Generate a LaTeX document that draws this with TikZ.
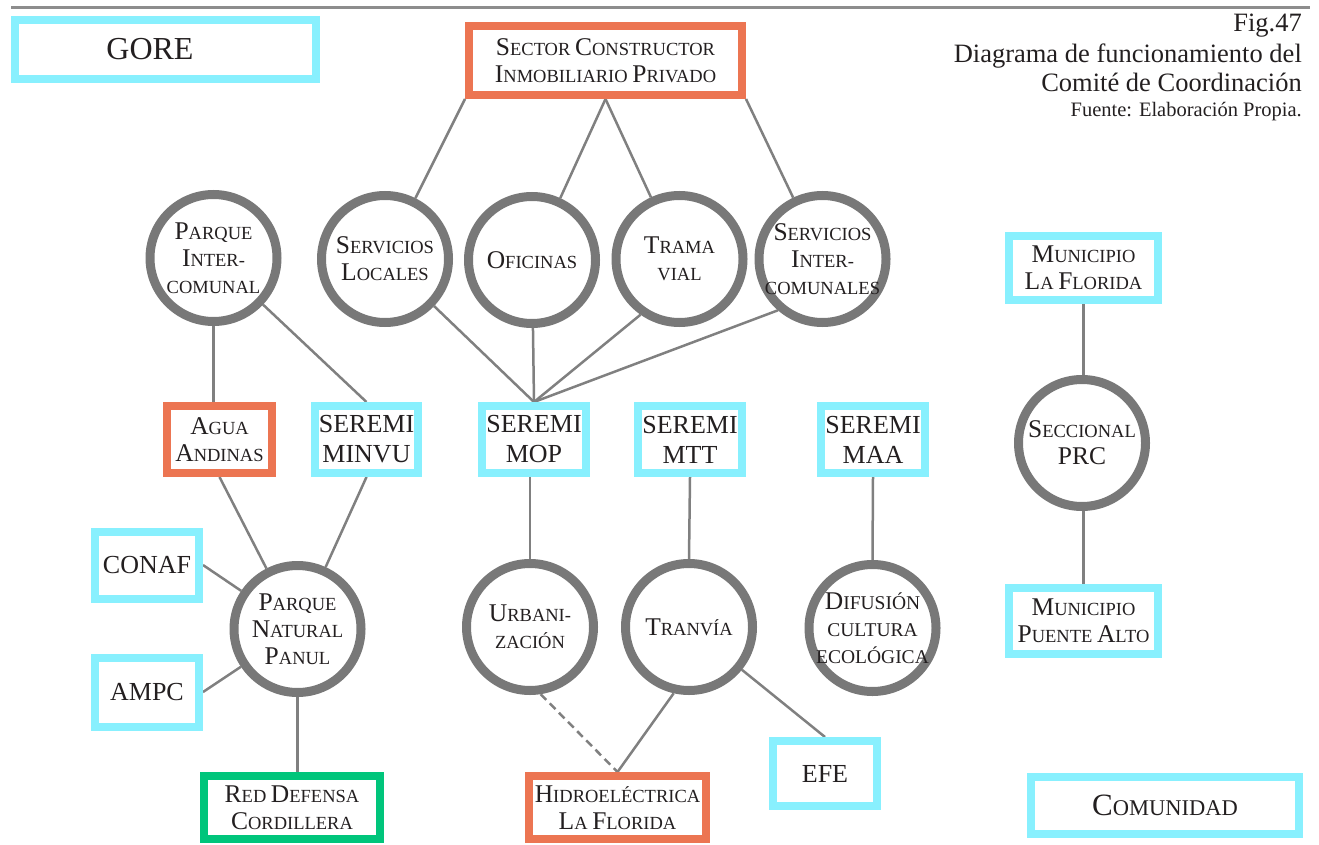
\documentclass[tikz,border=0pt]{standalone}
\usepackage{fontspec}
\setmainfont{Liberation Serif}
\usetikzlibrary{calc,backgrounds}
\definecolor{cyanb}{HTML}{88F0FE}
\definecolor{orangeb}{HTML}{EC7552}
\definecolor{greenb}{HTML}{00C57B}
\definecolor{ringg}{HTML}{787878}
\definecolor{lineg}{HTML}{808080}
\definecolor{txt}{HTML}{231F20}
\newcommand\Cap[1]{{\fontsize{25.5}{27}\selectfont #1}}
\newcommand\CapB[1]{{\fontsize{31}{36}\selectfont #1}}
\newcommand\sfont{\fontsize{18.5}{27}\selectfont}
\newcommand\bfnt{\fontsize{26}{30}\selectfont}
\begin{document}
\begin{tikzpicture}[x=1pt,y=-1pt,
  every node/.style={text=txt},
  box/.style={rectangle, draw, line width=8pt, fill=white, inner sep=0pt, align=center, font=\sfont},
  cbox/.style={box, draw=cyanb},
  obox/.style={box, draw=orangeb},
  gbox/.style={box, draw=greenb},
  ring/.style={circle, draw=ringg, line width=9pt, fill=white, minimum size=127pt, inner sep=0pt},
  ctext/.style={align=center, font=\sfont, inner sep=0pt},
  conn/.style={draw=lineg, line width=2.5pt},
  dconn/.style={conn, dash pattern=on 8pt off 5pt},
  fig/.style={anchor=base east, inner sep=0pt, font=\fontsize{26.5}{29}\selectfont}
]
\useasboundingbox (0,0) rectangle (1319,845);
\draw[draw=lineg!90, line width=3pt] (11,7.5) -- (1310,7.5);

% title
\node[fig] (f1) at (1302,32) {Fig.47};
\node[fig] (f2) at (1302,63) {Diagrama de funcionamiento del};
\node[fig] (f3) at (1302,92) {Comité de Coordinación};
\node[fig, font=\fontsize{20.5}{22}\selectfont] (f4) at (1302,117) {Fuente: Elaboración Propia.};

% boxes
\node[cbox, minimum width=301pt, minimum height=59pt] (gore) at (165.5,49.5) {};
\node[inner sep=0pt, font=\fontsize{32}{36}\selectfont] (goret) at (150,49.5) {GORE};
\node[obox, minimum width=273pt, minimum height=69pt] (sector) at (605.5,60.5) {\Cap{S}ECTOR \Cap{C}ONSTRUCTOR\\\Cap{I}NMOBILIARIO \Cap{P}RIVADO};
\node[obox, minimum width=105pt, minimum height=67pt] (agua) at (219.5,439.5) {\Cap{A}GUA\\\Cap{A}NDINAS};
\node[cbox, minimum width=103pt, minimum height=67pt, font=\bfnt] (minvu) at (366.5,439.5) {SEREMI\\MINVU};
\node[cbox, minimum width=104pt, minimum height=67pt, font=\bfnt] (mop) at (534,439.5) {SEREMI\\MOP};
\node[cbox, minimum width=104pt, minimum height=67pt, font=\bfnt] (mtt) at (690,439.5) {SEREMI\\MTT};
\node[cbox, minimum width=104pt, minimum height=67pt, font=\bfnt] (maa) at (873,439.5) {SEREMI\\MAA};
\node[cbox, minimum width=149pt, minimum height=64pt] (munlf) at (1083.5,268) {\Cap{M}UNICIPIO\\\Cap{L}A \Cap{F}LORIDA};
\node[cbox, minimum width=104pt, minimum height=67pt, font=\bfnt] (conaf) at (147,565) {CONAF};
\node[cbox, minimum width=104pt, minimum height=69pt, font=\bfnt] (ampc) at (147,692) {AMPC};
\node[gbox, minimum width=176pt, minimum height=63pt] (red) at (292,807.5) {\Cap{R}ED \Cap{D}EFENSA\\\Cap{C}ORDILLERA};
\node[obox, minimum width=177pt, minimum height=63pt] (hidro) at (617.5,807.5) {\Cap{H}IDROELÉCTRICA\\\Cap{L}A \Cap{F}LORIDA};
\node[cbox, minimum width=104pt, minimum height=65pt, font=\bfnt] (efe) at (825,773.5) {EFE};
\node[cbox, minimum width=149pt, minimum height=66pt] (munpa) at (1083.5,621) {\Cap{M}UNICIPIO\\\Cap{P}UENTE \Cap{A}LTO};
\node[cbox, minimum width=268pt, minimum height=57pt, font=\fontsize{22.5}{36}\selectfont] (com) at (1165,805) {\CapB{C}OMUNIDAD};

% circles
\node[ring] (pi) at (213.5,258) {};
\node[ctext] (pit) at (pi) {\Cap{P}ARQUE\\\Cap{I}NTER-\\COMUNAL};
\node[ring] (sl) at (385,259) {};
\node[ctext] (slt) at (sl) {\Cap{S}ERVICIOS\\\Cap{L}OCALES};
\node[ring] (of) at (532,260) {};
\node[ctext] (oft) at (of) {\Cap{O}FICINAS};
\node[ring] (tv) at (679.5,259) {};
\node[ctext] (tvt) at (tv) {\Cap{T}RAMA\\VIAL};
\node[ring] (si) at (822.5,259) {};
\node[ctext] (sit) at (si) {\Cap{S}ERVICIOS\\\Cap{I}NTER-\\COMUNALES};
\node[ring] (sec) at (1082,443) {};
\node[ctext] (sect) at (sec) {\Cap{S}ECCIONAL\\\Cap{PRC}};
\node[ring] (panul) at (297.5,629) {};
\node[ctext] (panult) at (panul) {\Cap{P}ARQUE\\\Cap{N}ATURAL\\\Cap{P}ANUL};
\node[ring] (urb) at (530,627) {};
\node[ctext] (urbt) at (urb) {\Cap{U}RBANI-\\ZACIÓN};
\node[ring] (tran) at (689,627) {};
\node[ctext] (trant) at (tran) {\Cap{T}RANVÍA};
\node[ring] (dif) at (872.5,628) {};
\node[ctext, font=\fontsize{19.5}{27}\selectfont] (dift) at (dif) {\Cap{D}IFUSIÓN\\CULTURA\\ECOLÓGICA};

% connectors
\begin{scope}[on background layer]
\draw[conn] (sector.south west) -- (sl);
\draw[conn] (sector.south) -- (of);
\draw[conn] (sector.south) -- (tv);
\draw[conn] (sector.south east) -- (si);
\draw[conn] (pi.south) -- (pi.south |- agua.north);
\draw[conn] (pi) -- (minvu.north);
\draw[conn] (sl) -- (mop.north);
\draw[conn] (of) -- (mop.north);
\draw[conn] (tv.-125) -- (mop.north);
\draw[conn] (si.-131) -- (mop.north);
\draw[conn] (agua.south) -- (panul);
\draw[conn] (minvu.south) -- (panul);
\draw[conn] (conaf.east) -- (panul);
\draw[conn] (ampc.east) -- (panul);
\draw[conn] (panul.south) -- (panul.south |- red.north);
\draw[conn] (urb.north |- mop.south) -- (urb.north);
\draw[conn] (mtt.south) -- (tran.north);
\draw[conn] (maa.south) -- (dif.north);
\draw[dconn] (urb.-81) -- (hidro.north);
\draw[conn] (tran.-103) -- (hidro.north);
\draw[conn] (tran) -- (efe.north);
\draw[conn] (munlf.south) -- (munlf.south |- sec.north);
\draw[conn] (munpa.north |- sec.south) -- (munpa.north);
\end{scope}
\end{tikzpicture}
\end{document}
